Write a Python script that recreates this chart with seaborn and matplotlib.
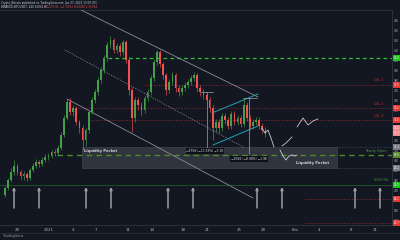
import matplotlib
matplotlib.use("Agg")
import matplotlib.pyplot as plt
import seaborn as sns
import pandas as pd
from matplotlib.patches import Rectangle

# ---------------- data (BTC/USDT style candles) ----------------
opens = [26500, 27200, 28000, 28800, 29400, 28800, 28400, 28600, 28200, 29000,
         29400, 29800, 29600, 30000, 30300, 30400, 30800, 30700, 31200, 32500,
         34200, 35800, 34800, 35200, 33800, 33200, 32000, 33000, 34800, 36000,
         36800, 38000, 39000, 40200, 41500, 42000, 41000, 41400, 40800, 41800,
         40000, 37000, 34200, 36000, 35500, 35000, 36200, 36800, 38200, 39800,
         40800, 39600, 38500, 37000, 37800, 38500, 37200, 36800, 37200, 37500,
         37800, 38200, 38500, 37200, 36800, 36500, 36000, 35200, 33200, 33800,
         33200, 34400, 34000, 33400, 34600, 33800, 34200, 33600, 35500, 34200,
         33400, 33800, 34000, 33400, 33000]
closes = [27200, 28000, 28800, 29400, 28800, 28400, 28600, 28200, 29000, 29400,
          29800, 29600, 30000, 30300, 30400, 30800, 30700, 31200, 32500, 34200,
          35800, 34800, 35200, 33800, 33200, 32000, 33000, 34800, 36000, 36800,
          38000, 39000, 40200, 41500, 42000, 41000, 41400, 40800, 41800, 40000,
          37000, 34200, 36000, 35500, 35000, 36200, 36800, 38200, 39800, 40800,
          39600, 38500, 37000, 37800, 38500, 37200, 36800, 37200, 37500, 37800,
          38200, 38500, 37200, 36800, 36500, 36000, 35200, 33200, 33800, 33200,
          34400, 34000, 33400, 34600, 33800, 34200, 33600, 35500, 34200, 33400,
          33800, 34000, 33400, 33000, 32600]
highs = [27400, 28200, 29200, 30000, 29600, 29000, 28900, 28800, 29200, 29700,
         30100, 30000, 30300, 30600, 30700, 31000, 31100, 31500, 32800, 34500,
         36100, 36200, 35500, 35400, 34000, 33500, 33200, 35000, 36300, 37100,
         38300, 39300, 40500, 41800, 42400, 42200, 41700, 41700, 42000, 42000,
         40300, 37300, 36300, 36300, 35800, 36500, 37100, 38500, 40100, 41000,
         41000, 39800, 38700, 38100, 38800, 38700, 37500, 37500, 37800, 38100,
         38500, 38800, 38700, 37500, 37100, 36800, 36300, 35500, 34100, 34100,
         34700, 34700, 34300, 34900, 34900, 34500, 34500, 36200, 35800, 34500,
         34100, 34300, 34300, 33700, 33300]
lows = [26300, 27000, 27800, 28500, 28500, 28100, 28000, 27900, 28000, 28800,
        29200, 29300, 29400, 29800, 30000, 30200, 30400, 30500, 31000, 32300,
        34000, 34500, 34400, 33500, 32700, 31000, 31400, 32700, 34600, 35700,
        36500, 37700, 38700, 39900, 41200, 40700, 40700, 40400, 40500, 39700,
        36500, 32800, 33800, 35000, 34500, 34700, 35900, 36500, 37900, 39500,
        39300, 38100, 36500, 36700, 37500, 36800, 36400, 36500, 36900, 37200,
        37500, 37900, 36800, 36400, 36100, 35600, 34800, 32000, 32800, 32700,
        32900, 33600, 33100, 33100, 33500, 33500, 33300, 33300, 33900, 33100,
        33100, 33500, 33100, 32700, 32300]

time_labels = ["28", "2021", "4", "7", "11", "14", "18", "21", "25", "28",
               "Feb", "4", "8", "11"]
time_label_px = [17, 49, 73, 96, 128, 152, 183, 207, 239, 263, 295, 319, 351, 375]

# ---------------- style ----------------
BG = "#131722"
sns.set_theme(style="dark", rc={"axes.facecolor": BG, "figure.facecolor": BG})
plt.rcParams["font.family"] = ["DejaVu Sans"]

UP, DOWN = "#43a047", "#ef5350"
TXT = "#b2b5be"


def X(px):  # pixel column -> candle index
    return (px - 5) / 3.1


def P(py):  # pixel row -> price
    return 46000 - 100 * py


df = pd.DataFrame({"open": opens, "high": highs, "low": lows, "close": closes})
df["i"] = range(len(df))
df["col"] = [UP if c >= o else DOWN for o, c in zip(df.open, df.close)]

fig = plt.figure(figsize=(4, 2.4), dpi=100)
ax = fig.add_axes([0, 15 / 240, 392 / 400, 215 / 240])
ax.set_xlim(X(0), X(392))
ax.set_ylim(P(225), P(10))

# liquidity pocket box
ax.add_patch(Rectangle((X(82), P(168)), X(337) - X(82), P(147) - P(168),
                       fc="#30343e", ec="#4a4e59", lw=0.4, zorder=1))

# horizontal levels
def hline(py, x0, x1, color, ls, lw, dashes=None, z=2):
    l, = ax.plot([X(x0), X(x1)], [P(py), P(py)], color=color, ls=ls, lw=lw, zorder=z)
    if dashes:
        l.set_dashes(dashes)

hline(58, 108, 392, "#2fc12f", "--", 0.9, (3, 2.5))
hline(85, 143, 392, "#8a2b30", ":", 0.7)
hline(108, 78, 392, "#8a2b30", ":", 0.7)
hline(120, 88, 392, "#8a2b30", ":", 0.7)
hline(147, 337, 392, "#4c505b", ":", 0.6)
hline(168, 337, 392, "#4c505b", ":", 0.6)
hline(155, 57, 392, "#4f8a2a", "--", 1.0, (4, 3), z=3)
hline(185, 0, 392, "#1d5a26", "-", 0.6)
hline(199, 305, 392, "#8a2b30", ":", 0.7)
hline(223, 305, 392, "#8a2b30", ":", 0.7)

# trend lines
def seg(pts, color, ls="-", lw=0.6, z=3):
    sns.lineplot(x=[X(p[0]) for p in pts], y=[P(p[1]) for p in pts], ax=ax,
                 color=color, lw=lw, ls=ls, zorder=z, sort=False, estimator=None)

seg([(81, 10), (258, 97)], "#8a8d96")
seg([(65, 50), (245, 148)], "#7d8089", ls=(0, (1.5, 1.5)))
seg([(67, 99), (253, 198)], "#8a8d96")
seg([(212, 113), (258, 94)], "#1fa3b3", lw=0.7)
seg([(213, 145), (258, 126)], "#1fa3b3", lw=0.7)

# measure tools
seg([(207, 92), (207, 148)], "#a0a3ab", lw=0.5)
seg([(201, 92), (213, 92)], "#a0a3ab", lw=0.5)
seg([(249, 98), (249, 154)], "#a0a3ab", lw=0.5)
seg([(243, 98), (257, 98)], "#a0a3ab", lw=0.5)

# candles
ax.vlines(df.i, df.low, df.high, colors=df.col, lw=0.45, zorder=4)
ax.bar(df.i, df.close - df.open, bottom=df.open, width=0.55, color=df.col,
       linewidth=0, zorder=5)

# projected paths
for pts in [[(262, 128), (265, 133), (268, 130), (271, 138), (274, 147)],
            [(282, 146), (286, 143), (292, 137)],
            [(297, 127), (303, 118), (308, 125), (313, 121), (318, 119)],
            [(280, 150), (283, 156), (286, 160), (289, 156), (292, 155), (295, 156), (297, 155)]]:
    seg(pts, "#c8cad0", lw=0.6, z=6)

# up arrows
for xp in [14, 39, 86, 111, 168, 193, 257, 282, 355, 380]:
    ax.annotate("", xy=(X(xp), P(187)), xytext=(X(xp), P(208)),
                arrowprops=dict(arrowstyle="-|>", color="#9a9da6", lw=1.1,
                                mutation_scale=3.5, shrinkA=0, shrinkB=0), zorder=6)

# labels in chart
ax.text(X(101), P(151), "Liquidity Pocket", color="#d1d4dc", fontsize=2.6,
        ha="center", va="center", zorder=7, weight="bold")
ax.text(X(313), P(163), "Liquidity Pocket", color="#d1d4dc", fontsize=2.6,
        ha="center", va="center", zorder=7, weight="bold")
ax.text(X(205), P(151), "−4758 (−13.33%) −3.1K", color="#e0e3eb", fontsize=2.2,
        ha="center", va="center", zorder=8,
        bbox=dict(boxstyle="square,pad=0.25", fc="#0e1018", ec="none"))
ax.text(X(249), P(159), "−3066 (−8.98%) −1.9K", color="#e0e3eb", fontsize=2.2,
        ha="center", va="center", zorder=8,
        bbox=dict(boxstyle="square,pad=0.25", fc="#0e1018", ec="none"))
for txt, py in [("LVL 1", 80), ("LVL 2", 104), ("LVL 3", 116)]:
    ax.text(X(379), P(py), txt, color="#b33a3a", fontsize=2.6, ha="center", va="center")
ax.text(X(376), P(151), "Yearly Open", color="#4f9a3a", fontsize=2.6, ha="center", va="center")
ax.text(X(381), P(180), "50% Fib", color="#3f9a3a", fontsize=2.6, ha="center", va="center")

# axes styling
ax.spines["left"].set_visible(False)
for s in ["top", "bottom", "right"]:
    ax.spines[s].set_color("#2a2e39")
    ax.spines[s].set_linewidth(0.8)
ax.grid(False)
ax.yaxis.tick_right()
yt = list(range(24000, 45000, 1000))
ax.set_yticks(yt)
ax.set_yticklabels([f"{v // 1000}K" for v in yt])
ax.tick_params(axis="y", labelsize=1.9, colors=TXT, pad=1.5, length=0)
ax.set_xticks([X(p) for p in time_label_px])
ax.set_xticklabels(time_labels)
ax.tick_params(axis="x", labelsize=2.8, colors=TXT, pad=2.5, length=0)

# coloured price labels on axis
for py, col in [(58, "#1ec31e"), (85, "#e53935"), (108, "#e53935"), (120, "#e53935"),
                (128, "#f28b8e"), (133, "#f28b8e"), (147, "#787b86"), (155, "#5b8c32"),
                (168, "#787b86"), (185, "#1ec31e"), (199, "#e53935"), (223, "#e53935")]:
    fig.text(393.5 / 400, 1 - py / 240, f"{P(py) / 1000:.1f}", fontsize=1.9, color="white",
             va="center", ha="left",
             bbox=dict(boxstyle="square,pad=0.2", fc=col, ec="none"))

# header
fig.text(1 / 400, 1 - 3 / 240, "Crypto_Bitcoin published on TradingView.com, Jan 27, 2021 13:09 UTC",
         fontsize=2.0, color="#d1d4dc", va="center", ha="left")
fig.text(1 / 400, 1 - 6.7 / 240, "BINANCE:BTCUSDT, 240 32034.77",
         fontsize=2.0, color="#d1d4dc", va="center", ha="left")
fig.text(44 / 400, 1 - 6.7 / 240, "▼ −573.91 (−1.76%) H:32450 L:31934",
         fontsize=2.0, color="#ef5350", va="center", ha="left")
fig.text(3 / 400, 1 - 236 / 240, "TradingView", fontsize=2.4, color="#9598a1",
         va="center", ha="left")
fig.add_artist(plt.Line2D([0, 1], [1 - 232.5 / 240] * 2, color="#2a2e39", lw=0.6))

fig.savefig("out.png", dpi=100, facecolor=BG)
